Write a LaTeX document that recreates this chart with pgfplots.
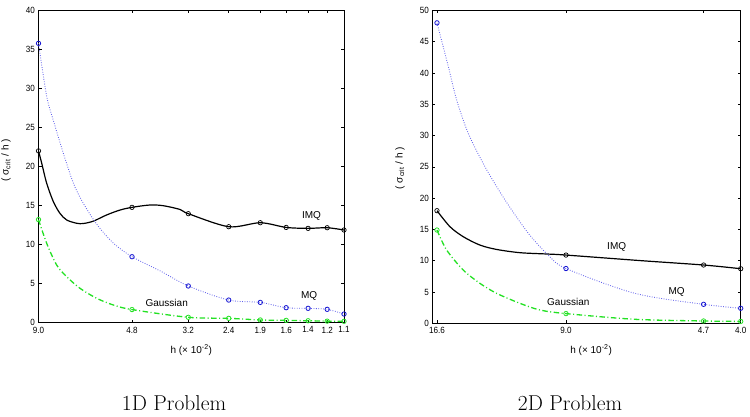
\documentclass[border=0pt]{standalone}
\usepackage{pgfplots}
\pgfplotsset{compat=1.18}
\usepackage{fontspec}
\newfontfamily\axfont{Liberation Sans}
\newfontfamily\tickfont[FakeStretch=0.9]{Liberation Sans}
\definecolor{mqline}{RGB}{95,95,235}
\definecolor{mqmark}{RGB}{20,20,210}
\definecolor{gau}{RGB}{35,225,35}

\pgfplotsset{
  imq/.style={black, line width=1.2pt, smooth},
  mq/.style={mqline, line width=0.85pt, dash pattern=on 0.8pt off 1.6pt, smooth},
  gs/.style={gau, line width=1.3pt, dash pattern=on 5.5pt off 2.5pt on 1pt off 2.5pt, smooth},
  imqm/.style={only marks, mark=o, mark size=2.2pt, mark options={black, line width=0.7pt, solid}},
  mqm/.style={only marks, mark=o, mark size=2.2pt, mark options={mqmark, line width=0.8pt, solid}},
  gsm/.style={only marks, mark=o, mark size=2.2pt, mark options={gau, line width=0.8pt, solid}},
}

\begin{document}
\begin{tikzpicture}[x=1pt,y=1pt]
\useasboundingbox (0,0) rectangle (750,416);

\begin{axis}[scale only axis, xmode=log, ymin=0, clip=false,
  axis line style={line width=0.8pt},
  tick align=inside, major tick length=3pt, tick style={black, line width=0.5pt},
  tick label style={font=\fontsize{9}{10}\tickfont},
  /pgf/number format/assume math mode=true,
  label style={font=\fontsize{10}{12}\axfont},
  at={(38.5pt,93.3pt)}, anchor=south west,
  width=305.5pt, height=312.4pt,
  xmin=11, xmax=91, ymax=40, ytick={0,5,...,40},
  xtick={11,21,31,41,51,61,71,81,91},
  xticklabels={9.0,4.8,3.2,2.4,1.9,1.6,1.4,1.2,1.1},
  xticklabel style={yshift=-0.5pt},
  minor xtick={},
  xlabel={h (× 10\textsuperscript{-2})},
  ylabel={( σ\textsubscript{crit} / h )},
  xlabel style={at={(axis description cs:0.5,-0.087)}, anchor=center},
  ylabel style={at={(axis description cs:-0.106,0.52)}, anchor=center},
]
% IMQ curve
\addplot[imq] coordinates {(11,22.0) (11.25,20.4) (11.64,17.85) (12.19,15.5) (12.76,14.0) (13.37,13.15) (14.33,12.73) (15.0,12.7) (16.07,13.0) (17.63,13.8) (19.35,14.43) (21,14.77) (23.77,15.07) (26.07,14.98) (29.27,14.5) (31,13.96) (41,12.29) (51,12.8) (61,12.2) (71,12.08) (81,12.16) (91,11.87)};
\addplot[imqm] coordinates {(11,22.0) (21,14.77) (31,13.96) (41,12.29) (51,12.8) (61,12.2) (71,12.08) (81,12.16) (91,11.87)};
% MQ curve
\addplot[mq] coordinates {(11,35.77) (11.64,29.0) (12.19,25.9) (13.06,21.7) (13.99,17.9) (14.9,15.5) (16.46,12.6) (18.45,10.2) (21,8.45) (25.6,6.6) (31,4.7) (41,2.9) (51,2.6) (61,1.92) (71,1.84) (81,1.71) (91,1.11)};
\addplot[mqm] coordinates {(11,35.77) (21,8.45) (31,4.7) (41,2.9) (51,2.6) (61,1.92) (71,1.84) (81,1.71) (91,1.11)};
% Gaussian curve
\addplot[gs] coordinates {(11,13.2) (11.64,10.17) (12.47,7.39) (13.37,5.89) (14.66,4.4) (16.46,3.12) (18.45,2.27) (21,1.68) (31,0.69) (41,0.56) (51,0.35) (61,0.3) (71,0.25) (81,0.2) (91,0.18)};
\addplot[gsm] coordinates {(11,13.2) (21,1.68) (31,0.69) (41,0.56) (51,0.35) (61,0.3) (71,0.25) (81,0.2) (91,0.18)};
\node[font=\fontsize{10}{12}\axfont] at (axis cs:72.7,13.66) {IMQ};
\node[font=\fontsize{10}{12}\axfont] at (axis cs:71.5,3.42) {MQ};
\node[font=\fontsize{10}{12}\axfont] at (axis cs:26.7,2.48) {Gaussian};
\end{axis}

\begin{axis}[scale only axis, xmode=log, ymin=0, clip=false,
  axis line style={line width=0.8pt},
  tick align=inside, major tick length=3pt, tick style={black, line width=0.5pt},
  tick label style={font=\fontsize{9}{10}\tickfont},
  /pgf/number format/assume math mode=true,
  label style={font=\fontsize{10}{12}\axfont},
  at={(432.3pt,92.7pt)}, anchor=south west,
  width=308.4pt, height=313pt,
  xmin=5.87, xmax=25, ymax=50, ytick={0,5,...,50},
  xtick={6,11,21,25},
  xticklabels={16.6,9.0,4.7,4.0},
  xticklabel style={yshift=-0.5pt},
  minor xtick={},
  xlabel={h (× 10\textsuperscript{-2})},
  ylabel={( σ\textsubscript{crit} / h )},
  xlabel style={at={(axis description cs:0.515,-0.085)}, anchor=center},
  ylabel style={at={(axis description cs:-0.105,0.496)}, anchor=center},
]
\addplot[imq] coordinates {(6,17.99) (6.378,15.43) (6.79,13.83) (7.34,12.5) (7.94,11.8) (8.86,11.28) (10.05,11.07) (11,10.9) (15.7,10.0) (21,9.31) (25,8.72)};
\addplot[imqm] coordinates {(6,17.99) (11,10.9) (21,9.31) (25,8.72)};
\addplot[mq] coordinates {(6,48.0) (6.33,41.0) (6.58,35.7) (6.95,30.35) (7.52,25.0) (8.26,19.7) (9.21,14.4) (10.12,10.9) (11,8.75) (15.2,4.79) (21,3.03) (25,2.4)};
\addplot[mqm] coordinates {(6,48.0) (11,8.75) (21,3.03) (25,2.4)};
\addplot[gs] coordinates {(6,14.9) (6.28,11.7) (6.79,8.5) (7.34,6.39) (7.94,4.79) (8.86,3.19) (9.74,2.12) (11,1.55) (15.2,0.64) (21,0.37) (25,0.3)};
\addplot[gsm] coordinates {(6,14.9) (11,1.55) (21,0.37) (25,0.3)};
\node[font=\fontsize{10}{12}\axfont] at (axis cs:13.96,12.14) {IMQ};
\node[font=\fontsize{10}{12}\axfont] at (axis cs:18.5,5.05) {MQ};
\node[font=\fontsize{10}{12}\axfont] at (axis cs:11.12,3.35) {Gaussian};
\end{axis}

\node[anchor=base, font=\fontsize{21.5}{24}\selectfont] at (174,6) {1D Problem};
\node[anchor=base, font=\fontsize{21.5}{24}\selectfont] at (570,6) {2D Problem};
\end{tikzpicture}
\end{document}
